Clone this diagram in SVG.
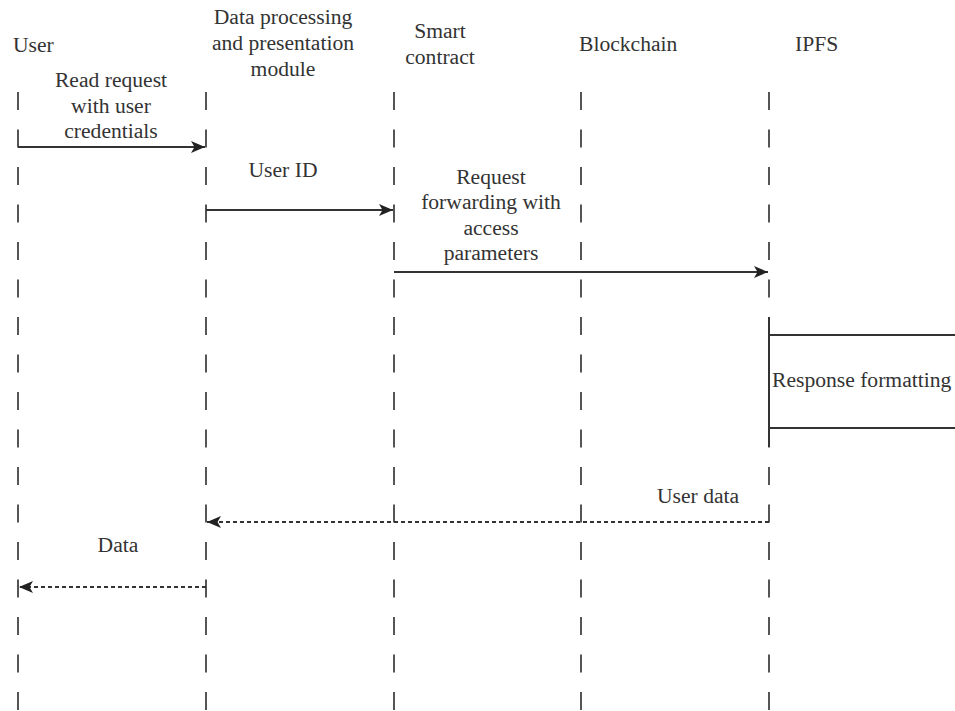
<svg xmlns="http://www.w3.org/2000/svg" width="955" height="711" viewBox="0 0 955 711">
<style>
text{font-family:"Liberation Serif","Times New Roman",serif;font-size:21.6px;fill:#333}
.c{text-anchor:middle}
.life{stroke:#555;stroke-width:2;stroke-dasharray:18 19.5;fill:none}
.msg{stroke:#333;stroke-width:2;fill:none}
.ret{stroke:#333;stroke-width:2;fill:none;stroke-dasharray:4 3}
</style>
<defs>
<marker id="ah" markerUnits="userSpaceOnUse" markerWidth="16" markerHeight="14" refX="14" refY="6" orient="auto">
<path d="M0,0 L14,6 L0,12 L3.5,6 z" fill="#222"/>
</marker>
</defs>
<rect width="955" height="711" fill="#fff"/>
<g id="user">
<text x="13" y="52">User</text>
<line class="life" x1="18" y1="92" x2="18" y2="711"/>
</g>
<g id="dpm">
<text class="c" x="283" y="24">Data processing</text>
<text class="c" x="283" y="50">and presentation</text>
<text class="c" x="283" y="76">module</text>
<line class="life" x1="206" y1="92" x2="206" y2="711"/>
</g>
<g id="smart-contract">
<text class="c" x="440" y="38">Smart</text>
<text class="c" x="440" y="64">contract</text>
<line class="life" x1="394" y1="92" x2="394" y2="711"/>
</g>
<g id="blockchain">
<text x="579" y="51">Blockchain</text>
<line class="life" x1="581" y1="92" x2="581" y2="711"/>
</g>
<g id="ipfs">
<text x="795" y="51">IPFS</text>
<line class="life" x1="769" y1="92" x2="769" y2="711"/>
</g>
<g id="response-formatting">
<path class="msg" d="M769,317 V447 M769,335 H955 M769,428 H955"/>
<text x="772" y="387">Response formatting</text>
</g>
<g id="connectors">
<line class="msg" x1="18" y1="147" x2="205" y2="147" marker-end="url(#ah)"/>
<text class="c" x="111" y="87">Read request</text>
<text class="c" x="111" y="113">with user</text>
<text class="c" x="111" y="138">credentials</text>
<line class="msg" x1="206" y1="210" x2="393" y2="210" marker-end="url(#ah)"/>
<text class="c" x="283" y="177">User ID</text>
<line class="msg" x1="394" y1="272" x2="768" y2="272" marker-end="url(#ah)"/>
<text class="c" x="491" y="184">Request</text>
<text class="c" x="491" y="209">forwarding with</text>
<text class="c" x="491" y="235">access</text>
<text class="c" x="491" y="260">parameters</text>
<line class="ret" x1="769" y1="522" x2="207" y2="522" marker-end="url(#ah)"/>
<text x="657" y="503">User data</text>
<line class="ret" x1="206" y1="587" x2="19" y2="587" marker-end="url(#ah)"/>
<text class="c" x="118" y="552">Data</text>
</g>
</svg>
